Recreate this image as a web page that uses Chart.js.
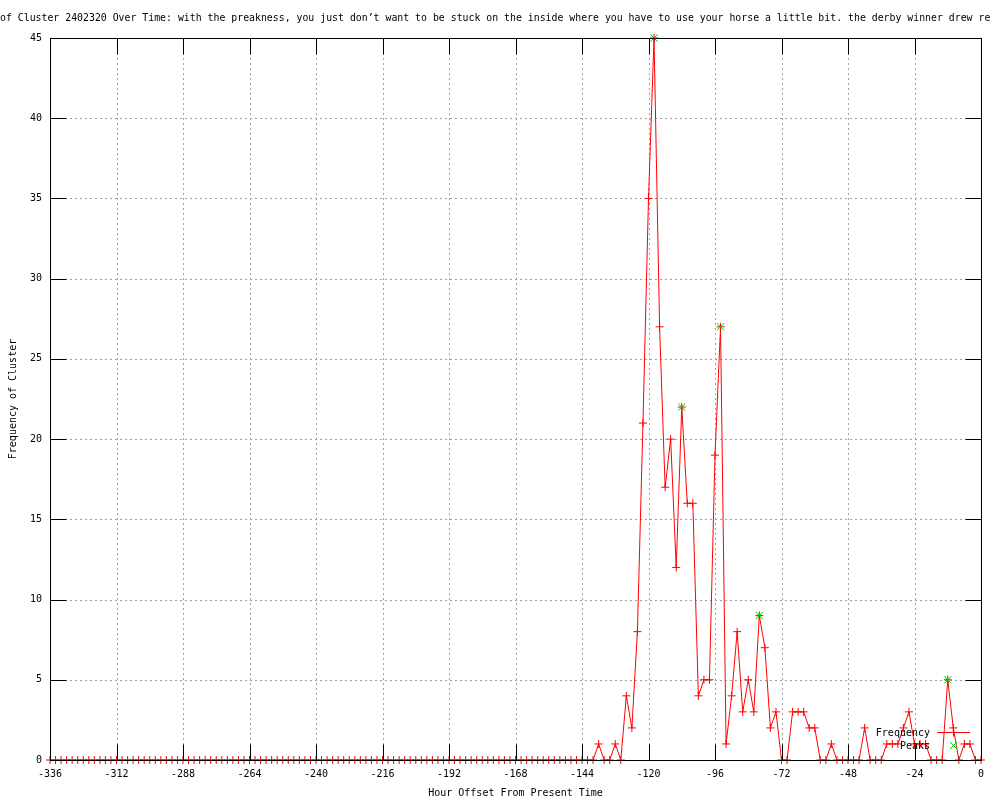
<!DOCTYPE html>
<html>
<head>
<meta charset="utf-8">
<title>Cluster 2402320 frequency</title>
<script src="https://cdn.jsdelivr.net/npm/chart.js@4"></script>
<style>
  body { margin: 0; background: #fff; }
  #wrap { width: 1000px; height: 800px; }
</style>
</head>
<body>
<div id="wrap"><canvas id="clusterChart" width="1000" height="800"></canvas></div>
<script>
// title is cut off on both sides in the original, keep only the visible part
const titleText = "of Cluster 2402320 Over Time: with the preakness, you just don\u2019t want to be stuck on the inside where you have to use your horse a little bit. the derby winner drew re";
const xTitle = "Hour Offset From Present Time";
const yTitle = "Frequency of Cluster";
const seriesNames = ["Frequency", "Peaks"];

// one value every 2 hours, from -336 up to 0
const startHour = -336;
const stepHours = 2;
const frequency = [
  0, 0, 0, 0, 0, 0, 0, 0, 0, 0, 0, 0,      // -336 .. -314
  0, 0, 0, 0, 0, 0, 0, 0, 0, 0, 0, 0,      // -312 .. -290
  0, 0, 0, 0, 0, 0, 0, 0, 0, 0, 0, 0,      // -288 .. -266
  0, 0, 0, 0, 0, 0, 0, 0, 0, 0, 0, 0,      // -264 .. -242
  0, 0, 0, 0, 0, 0, 0, 0, 0, 0, 0, 0,      // -240 .. -218
  0, 0, 0, 0, 0, 0, 0, 0, 0, 0, 0, 0,      // -216 .. -194
  0, 0, 0, 0, 0, 0, 0, 0, 0, 0, 0, 0,      // -192 .. -170
  0, 0, 0, 0, 0, 0, 0, 0, 0, 0, 0, 0,      // -168 .. -146
  0, 0, 0, 1, 0, 0, 1, 0, 4, 2, 8, 21,     // -144 .. -122
  35, 45, 27, 17, 20, 12, 22, 16, 16, 4, 5, 5,  // -120 .. -98
  19, 27, 1, 4, 8, 3, 5, 3, 9, 7, 2, 3,    // -96 .. -74
  0, 0, 3, 3, 3, 2, 2, 0, 0, 1, 0, 0,      // -72 .. -50
  0, 0, 0, 2, 0, 0, 0, 1, 1, 1, 2, 3,      // -48 .. -26
  1, 1, 1, 0, 0, 0, 5, 2, 0, 1, 1, 0,      // -24 .. -2
  0                                        // 0
];
const hours = frequency.map((v, i) => startHour + i * stepHours);

const peakHours = [-118, -108, -94, -80, -12];
const peakValues = [45, 22, 27, 9, 5];

const xMin = -336, xMax = 0, xStep = 24;
const yMin = 0, yMax = 45, yStep = 5;

const monoFont = "'DejaVu Sans Mono', 'Liberation Mono', monospace";
Chart.defaults.font.family = monoFont;
Chart.defaults.font.size = 10;
Chart.defaults.color = "#000";

// gnuplot look: dotted grid, framed box with inward ticks, title and key drawn by hand
const gnuplotFrame = {
  id: "gnuplotFrame",
  beforeDatasetsDraw(chart) {
    const { ctx, chartArea: a, scales } = chart;
    ctx.save();
    ctx.strokeStyle = "#a0a0a0";
    ctx.lineWidth = 1;
    ctx.setLineDash([2, 3]);
    scales.x.ticks.forEach((t) => {
      if (t.value <= xMin || t.value >= xMax) return;
      const px = Math.round(scales.x.getPixelForValue(t.value)) + 0.5;
      ctx.beginPath();
      ctx.moveTo(px, a.top);
      ctx.lineTo(px, a.bottom);
      ctx.stroke();
    });
    scales.y.ticks.forEach((t) => {
      if (t.value <= yMin || t.value >= yMax) return;
      const py = Math.round(scales.y.getPixelForValue(t.value)) + 0.5;
      ctx.beginPath();
      ctx.moveTo(a.left, py);
      ctx.lineTo(a.right, py);
      ctx.stroke();
    });
    ctx.restore();
  },
  afterDatasetsDraw(chart) {
    const { ctx, chartArea: a, scales } = chart;
    const tick = 16;
    const left = Math.round(a.left) + 0.5, right = Math.round(a.right) + 0.5;
    const top = Math.round(a.top) + 0.5, bottom = Math.round(a.bottom) + 0.5;
    ctx.save();
    ctx.strokeStyle = "#000";
    ctx.lineWidth = 1;
    ctx.strokeRect(left, top, right - left, bottom - top);
    ctx.beginPath();
    scales.x.ticks.forEach((t) => {
      const px = Math.round(scales.x.getPixelForValue(t.value)) + 0.5;
      ctx.moveTo(px, bottom);
      ctx.lineTo(px, bottom - tick);
      ctx.moveTo(px, top);
      ctx.lineTo(px, top + tick);
    });
    scales.y.ticks.forEach((t) => {
      const py = Math.round(scales.y.getPixelForValue(t.value)) + 0.5;
      ctx.moveTo(left, py);
      ctx.lineTo(left + tick, py);
      ctx.moveTo(right, py);
      ctx.lineTo(right - tick, py);
    });
    ctx.stroke();
    ctx.restore();
  },
  afterDraw(chart) {
    const { ctx } = chart;
    ctx.save();
    ctx.font = "10px " + monoFont;
    ctx.fillStyle = "#000";
    ctx.textBaseline = "middle";
    ctx.textAlign = "left";
    // squeeze a touch so the visible part ends at the right edge like the original
    ctx.save();
    ctx.scale(0.985, 1);
    ctx.fillText(titleText, 0, 18);
    ctx.restore();

    // key
    ctx.textAlign = "right";
    ctx.fillText(seriesNames[0], 930, 733);
    ctx.fillText(seriesNames[1], 930, 746);
    ctx.strokeStyle = "#ff0000";
    ctx.beginPath();
    ctx.moveTo(937, 732.5);
    ctx.lineTo(970, 732.5);
    ctx.moveTo(953.5, 728.5);
    ctx.lineTo(953.5, 736.5);
    ctx.stroke();
    ctx.strokeStyle = "#00c000";
    ctx.beginPath();
    ctx.moveTo(950, 742);
    ctx.lineTo(957, 749);
    ctx.moveTo(957, 742);
    ctx.lineTo(950, 749);
    ctx.stroke();
    ctx.restore();
  }
};

const ctx = document.getElementById("clusterChart").getContext("2d");
new Chart(ctx, {
  type: "line",
  data: {
    datasets: [
      {
        label: seriesNames[1],
        data: peakHours.map((h, i) => ({ x: h, y: peakValues[i] })),
        showLine: false,
        pointStyle: "crossRot",
        pointRadius: 5,
        pointBorderWidth: 1,
        pointBorderColor: "#00c000",
        borderColor: "#00c000",
        order: 0,
        clip: false,
      },
      {
        label: seriesNames[0],
        data: hours.map((h, i) => ({ x: h, y: frequency[i] })),
        borderColor: "#ff0000",
        borderWidth: 1,
        tension: 0,
        fill: false,
        pointStyle: "cross",
        pointRadius: 4,
        pointBorderWidth: 1,
        pointBorderColor: "#ff0000",
        order: 1,
        clip: false,
      },
    ],
  },
  options: {
    responsive: false,
    animation: false,
    events: [],
    layout: { padding: { top: 38, right: 19, bottom: 0, left: 0 } },
    plugins: {
      legend: { display: false },
      tooltip: { enabled: false },
      title: { display: false },
    },
    scales: {
      x: {
        type: "linear",
        min: xMin,
        max: xMax,
        grid: { display: false, drawTicks: false },
        border: { display: false },
        ticks: { stepSize: xStep, padding: 8, maxRotation: 0, autoSkip: false },
        title: { display: true, text: xTitle, padding: { top: 0, bottom: 1 } },
        afterFit: (scale) => { scale.height = 40; },
      },
      y: {
        min: yMin,
        max: yMax,
        grid: { display: false, drawTicks: false },
        border: { display: false },
        ticks: { stepSize: yStep, padding: 8 },
        title: { display: true, text: yTitle, padding: { top: 7, bottom: 0 } },
        afterFit: (scale) => { scale.width = 50; },
      },
    },
  },
  plugins: [gnuplotFrame],
});
</script>
</body>
</html>
